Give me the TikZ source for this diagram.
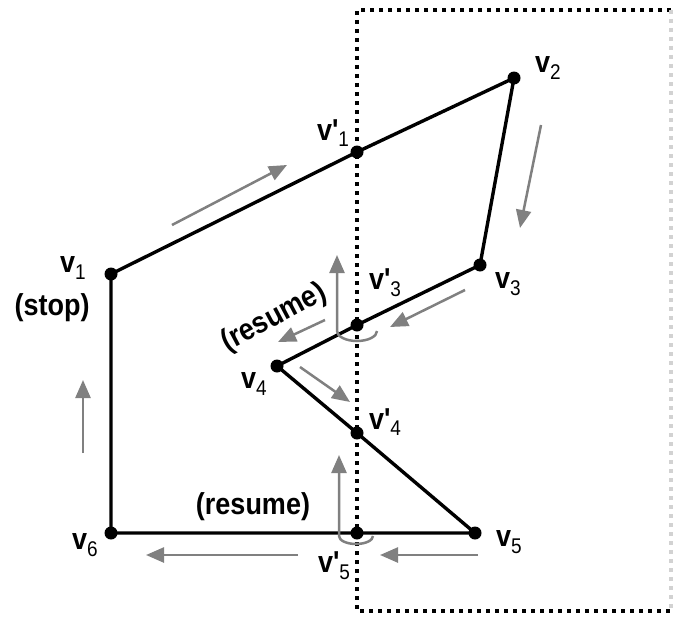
\documentclass[tikz,border=0pt]{standalone}
\usepackage{fontspec}
\setmainfont{Liberation Sans}
\usetikzlibrary{arrows.meta}

\tikzset{
  edge/.style={line width=3.4pt, line join=round},
  dir/.style={draw=gray, line width=2.5pt, -{Triangle[length=18pt,width=15pt]}},
  clipbox/.style={line width=4pt, dash pattern=on 4pt off 5pt},
  lbl/.style={font=\fontsize{27}{31}\selectfont\bfseries, inner sep=0pt},
}
\newcommand{\tall}[1]{\scalebox{1}[1.12]{#1}}
\newcommand{\sub}[1]{\raisebox{-6pt}{\fontsize{19}{20}\selectfont\mdseries #1}}
\newcommand{\vtx}[1]{\tall{v\sub{#1}}}
\newcommand{\vtxp}[1]{\tall{v\textquotesingle\sub{#1}}}

\begin{document}
\begin{tikzpicture}[x=1pt,y=-1pt]
  \useasboundingbox (0,0) rectangle (674,618);

  % Clipping window
  \draw[clipbox] (671,10) -- (357,10) -- (357,611) -- (671,611);
  \draw[clipbox, gray!35] (671,10) -- (671,611);

  % Polygon vertices and crossing points
  \coordinate (v1) at (111,274);
  \coordinate (p1) at (357,152);
  \coordinate (v2) at (514,78);
  \coordinate (v3) at (480,265);
  \coordinate (p3) at (357,325);
  \coordinate (v4) at (277,366);
  \coordinate (p4) at (357,433);
  \coordinate (v5) at (475,533);
  \coordinate (p5) at (357,533);
  \coordinate (v6) at (111,533);

  % Polygon outline
  \draw[edge] (v1) -- (p1) -- (v2) -- (v3) -- (p3) -- (v4) -- (p4) -- (v5) -- (p5) -- (v6) -- cycle;
  \foreach \p in {v1,p1,v2,v3,p3,v4,p4,v5,p5,v6}
    \fill (\p) circle[radius=6.5];

  % Vertex labels
  \node[lbl] (l1) at (73,268) {\vtx{1}};
  \node[lbl] (l2) at (548,68) {\vtx{2}};
  \node[lbl] (l3) at (508,284) {\vtx{3}};
  \node[lbl] (l4) at (254,384) {\vtx{4}};
  \node[lbl] (l5) at (509,542) {\vtx{5}};
  \node[lbl] (l6) at (85,545) {\vtx{6}};
  \node[lbl] (lp1) at (333,133) {\vtxp{1}};
  \node[lbl] (lp3) at (385,283) {\vtxp{3}};
  \node[lbl] (lp4) at (385,422) {\vtxp{4}};
  \node[lbl] (lp5) at (334,566) {\vtxp{5}};

  % Notes
  \node[lbl] (stop) at (52,308) {\tall{(stop)}};
  \node[lbl, rotate=28] (resume1) at (274,318) {\tall{(resume)}};
  \node[lbl] (resume2) at (253,507) {\tall{(resume)}};

  % Direction of travel
  \foreach \xa/\ya/\xb/\yb in {172/225/287/165, 541/125/520/228, 465/290/390/327,
      325/320/278/342, 300/367/350/402, 478/555/380/555, 298/555/146/555, 83/453/83/380}
    \draw[dir] (\xa,\ya) -- (\xb,\yb);

  % Turns at the window edge
  \draw[dir] (377,331) arc[start angle=0, end angle=180, x radius=20, y radius=10] -- (337,255);
  \draw[dir] (373,536) arc[start angle=0, end angle=180, x radius=17, y radius=8] -- (339,455);
\end{tikzpicture}
\end{document}
